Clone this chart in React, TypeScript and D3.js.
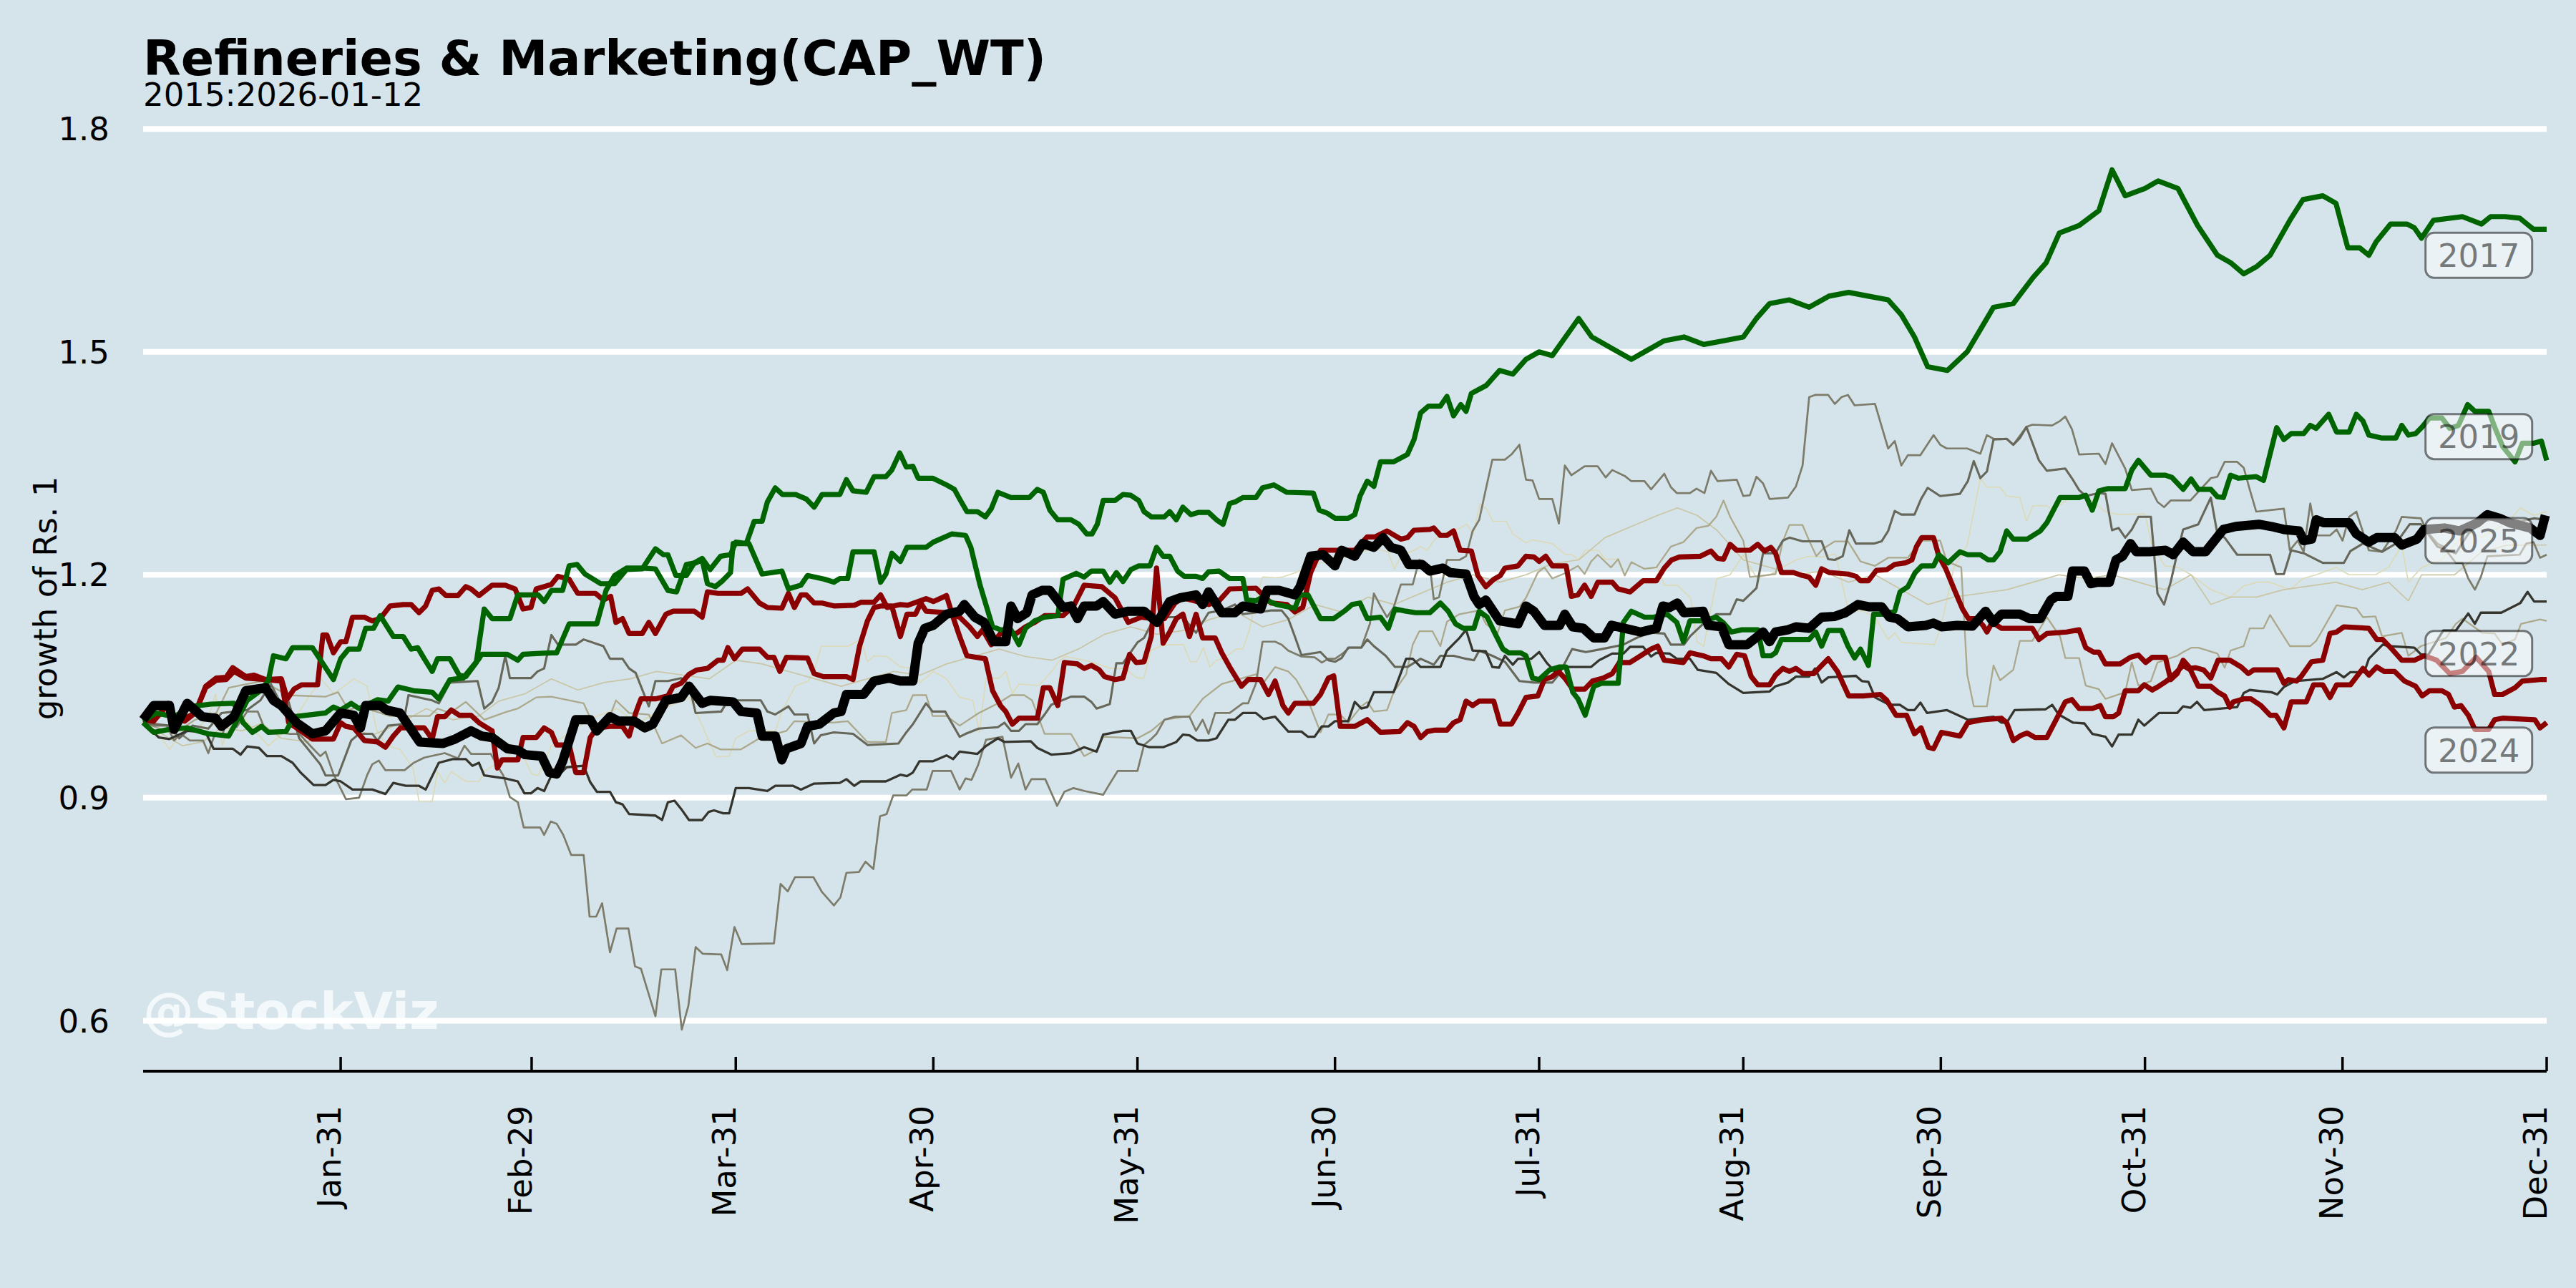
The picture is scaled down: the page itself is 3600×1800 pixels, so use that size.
import React from 'react';
import * as d3 from 'd3';

type P = [number, number];

const monthTickDays = [31, 60, 91, 121, 152, 182, 213, 244, 274, 305, 335, 366];
const monthTickLabels = ['Jan-31', 'Feb-29', 'Mar-31', 'Apr-30', 'May-31', 'Jun-30', 'Jul-31', 'Aug-31', 'Sep-30', 'Oct-31', 'Nov-30', 'Dec-31'];
const yTicks = [0.6, 0.9, 1.2, 1.5, 1.8];

const labelYears = ['2017', '2019', '2025', '2022', '2024'];
const labelValues = [1.630, 1.386, 1.246, 1.094, 0.964];
const labelDay = 355.7;

const y2025: P[] = [[1,1.005],[2.6,1.024],[5,1.024],[5.7,0.992],[7.7,1.027],[10,1.009],[12,1.007],[12.9,0.996],[14.8,1.009],[16.6,1.044],[19.6,1.048],[20.8,1.031],[22,1.024],[24.3,1.001],[26.7,0.986],[28.7,0.990],[31,1.014],[33,1.011],[34,0.994],[34.8,1.024],[37,1.024],[38,1.018],[40,1.014],[43,0.975],[46.5,0.973],[48.4,0.979],[50.8,0.990],[52.4,0.983],[54,0.981],[56.3,0.966],[57.9,0.964],[59,0.958],[61.5,0.956],[62.7,0.934],[63.8,0.932],[64.7,0.949],[66.7,1.005],[68.9,1.005],[69.9,0.990],[71.9,1.009],[73.2,1.003],[75.6,1.003],[77.2,0.994],[78.4,0.999],[80.4,1.031],[82.7,1.035],[83.9,1.05],[85.9,1.027],[87.1,1.031],[90.6,1.029],[91.8,1.016],[94.2,1.014],[95,0.983],[97,0.983],[98,0.951],[98.7,0.966],[100.9,0.973],[101.9,0.996],[103.7,0.999],[105.9,1.014],[107,1.016],[107.8,1.039],[110.4,1.039],[112,1.057],[114.3,1.061],[116,1.057],[117.9,1.057],[118.7,1.108],[119.7,1.128],[121,1.132],[123,1.147],[125,1.151],[125.7,1.160],[127.3,1.143],[128.7,1.136],[130.2,1.110],[132,1.110],[132.8,1.158],[133.8,1.141],[135.2,1.149],[136,1.173],[137.5,1.179],[138.7,1.179],[140.7,1.156],[141.9,1.158],[142.9,1.141],[143.9,1.158],[145.8,1.158],[146.8,1.164],[148.6,1.147],[150.6,1.151],[153,1.151],[155,1.136],[156.9,1.164],[158.5,1.169],[160.9,1.173],[161.9,1.160],[162.8,1.177],[164.8,1.149],[166.8,1.149],[168,1.158],[170.7,1.154],[171.7,1.179],[173.5,1.179],[175.9,1.173],[176.7,1.184],[178.3,1.225],[180.2,1.227],[182,1.212],[183,1.233],[185,1.225],[186.2,1.242],[187.9,1.237],[189.3,1.250],[190.5,1.237],[192,1.233],[193.2,1.214],[195.2,1.214],[196.4,1.205],[198.4,1.209],[199.5,1.203],[201.9,1.201],[203.1,1.171],[203.9,1.160],[204.9,1.166],[207,1.138],[209.8,1.134],[211,1.158],[212.2,1.151],[213.8,1.132],[216.1,1.132],[216.9,1.147],[218.1,1.130],[219.7,1.128],[221.3,1.115],[222.9,1.115],[224,1.132],[226,1.128],[228.4,1.123],[230.8,1.128],[231.8,1.158],[232.8,1.156],[234,1.162],[235,1.149],[237.9,1.151],[238.7,1.132],[240.7,1.130],[241.8,1.106],[244.6,1.106],[246.2,1.117],[247,1.123],[248,1.110],[248.9,1.123],[250.8,1.126],[252,1.130],[254,1.128],[255.9,1.143],[257.9,1.144],[259.5,1.149],[261.4,1.160],[263,1.157],[265,1.157],[266.2,1.143],[267.4,1.141],[269,1.130],[271.7,1.132],[272.9,1.135],[274.1,1.130],[276.5,1.132],[278.8,1.131],[280.8,1.151],[282,1.136],[283.2,1.147],[286,1.147],[287.5,1.141],[289.1,1.141],[290.7,1.166],[291.5,1.171],[293.3,1.171],[294,1.205],[295.8,1.205],[296.8,1.188],[297.8,1.190],[299.6,1.190],[300.6,1.220],[301.6,1.225],[302.8,1.242],[303.7,1.231],[305.7,1.231],[308.1,1.233],[309.3,1.227],[310.8,1.244],[311.6,1.237],[312.3,1.231],[314.2,1.231],[316.9,1.261],[318.8,1.265],[322.3,1.268],[324.2,1.265],[326.1,1.261],[328.4,1.259],[329.1,1.246],[330.3,1.248],[331,1.274],[332.2,1.270],[336,1.270],[337.1,1.255],[339,1.244],[340.2,1.250],[342.9,1.250],[344,1.240],[346.3,1.248],[347.4,1.261],[350.5,1.263],[352.8,1.259],[355.5,1.270],[357,1.281],[358.9,1.276],[360.4,1.270],[363.5,1.263],[365,1.253],[365.8,1.280]];

const y2017: P[] = [[1,1.001],[2.6,0.988],[5,0.992],[7.7,0.994],[10.9,0.986],[14,0.983],[14.8,0.996],[16.8,1.031],[18.8,1.044],[20,1.057],[20.8,1.091],[22.7,1.087],[23.7,1.102],[26.7,1.102],[29.9,1.059],[31,1.087],[32.2,1.100],[33.8,1.100],[34.8,1.128],[36,1.128],[37,1.145],[39,1.117],[40.5,1.117],[41.7,1.100],[42.7,1.102],[43.7,1.087],[44.9,1.070],[45.7,1.087],[47.6,1.087],[49,1.065],[50,1.063],[51.6,1.082],[52.8,1.154],[54,1.141],[56.7,1.141],[57.9,1.173],[61,1.173],[61.9,1.164],[63,1.179],[64.7,1.179],[65.7,1.212],[66.9,1.214],[68.1,1.201],[70.5,1.188],[72.6,1.188],[74.4,1.207],[76.8,1.208],[78.8,1.235],[80,1.227],[80.7,1.227],[81.9,1.199],[83.5,1.199],[84.7,1.216],[85.9,1.222],[87.1,1.207],[88.7,1.225],[90.2,1.227],[91,1.244],[92.6,1.242],[93.8,1.272],[95,1.272],[95.8,1.298],[97,1.317],[98.1,1.308],[100.1,1.308],[101.7,1.302],[102.9,1.291],[104.1,1.308],[106.8,1.308],[107.8,1.328],[108.8,1.313],[110.8,1.311],[112,1.332],[113.8,1.332],[114.7,1.341],[115.9,1.364],[116.9,1.345],[117.9,1.346],[118.7,1.330],[120.9,1.330],[123,1.321],[124.2,1.315],[125,1.302],[126.1,1.285],[127.7,1.285],[128.9,1.278],[129.8,1.289],[130.8,1.311],[132.8,1.304],[135.6,1.304],[136.8,1.315],[137.7,1.311],[138.7,1.287],[139.9,1.274],[141.9,1.274],[143.1,1.268],[144.3,1.255],[145.1,1.255],[145.9,1.268],[146.8,1.300],[148.6,1.300],[149.8,1.308],[151,1.307],[152.2,1.300],[153,1.285],[154.1,1.278],[156.1,1.278],[156.9,1.285],[157.9,1.274],[158.9,1.291],[160.1,1.281],[161.3,1.284],[162.8,1.284],[164,1.274],[165,1.268],[166,1.296],[166.8,1.298],[168,1.304],[170,1.304],[171,1.317],[172.7,1.321],[174.7,1.311],[178.7,1.310],[179.6,1.287],[180.8,1.283],[182,1.276],[184,1.276],[185,1.281],[185.8,1.306],[186.9,1.326],[187.9,1.319],[188.9,1.352],[190.9,1.352],[193,1.362],[194,1.382],[195,1.418],[196.2,1.427],[198,1.427],[199,1.44],[200,1.414],[201.1,1.429],[201.9,1.420],[202.7,1.444],[205,1.455],[207,1.475],[209,1.47],[211,1.49],[213,1.5],[215,1.495],[217,1.52],[219,1.545],[221,1.52],[224,1.505],[227,1.49],[229,1.5],[232,1.515],[235,1.52],[238,1.51],[241,1.515],[244,1.52],[246,1.545],[248,1.565],[251,1.57],[254,1.56],[257,1.575],[260,1.58],[263,1.575],[266,1.57],[268,1.55],[270,1.52],[272,1.48],[275,1.475],[278,1.5],[280,1.53],[282,1.56],[285,1.565],[288,1.6],[290,1.62],[292,1.66],[295,1.67],[298,1.69],[300,1.745],[302,1.71],[305,1.72],[307,1.73],[310,1.72],[313,1.67],[316,1.63],[318,1.62],[320,1.605],[322,1.615],[324,1.63],[327,1.677],[329,1.705],[332,1.71],[334,1.70],[335.8,1.64],[337.6,1.64],[339,1.63],[340.1,1.648],[342.3,1.672],[344.8,1.672],[345.9,1.667],[347,1.653],[348.8,1.677],[353.2,1.682],[356.1,1.672],[357.5,1.682],[359.7,1.682],[361.9,1.68],[363.3,1.67],[364,1.665],[366,1.665]];

const y2019: P[] = [[1,1.003],[3,1.014],[5.7,1.009],[8.5,1.023],[11.3,1.026],[14.8,1.027],[16.2,1.001],[17.6,0.988],[19,0.996],[20,0.988],[22.7,0.989],[23.9,1.009],[28.7,1.014],[29.9,1.022],[31,1.018],[32.6,1.027],[33.8,1.020],[36.6,1.032],[38.2,1.030],[39.7,1.049],[42.1,1.044],[44.9,1.042],[45.9,1.033],[47.6,1.059],[49.6,1.061],[52,1.087],[52.4,1.093],[56.3,1.093],[57.9,1.085],[58.7,1.093],[63,1.095],[63.8,1.095],[65.7,1.134],[69.9,1.134],[71.3,1.179],[72.6,1.199],[74.4,1.209],[76.8,1.209],[78.8,1.208],[80.7,1.179],[82,1.177],[83.5,1.214],[84.9,1.216],[85.9,1.22],[86.7,1.188],[87.9,1.184],[89,1.192],[90.2,1.203],[90.6,1.242],[93,1.242],[95,1.201],[98,1.205],[99,1.181],[100.9,1.186],[101.9,1.199],[104.5,1.194],[105.9,1.190],[106.8,1.195],[108,1.195],[108.8,1.231],[112,1.231],[113,1.190],[113.8,1.201],[114.7,1.229],[116,1.218],[117,1.237],[119.9,1.237],[121,1.244],[123.8,1.255],[125.9,1.253],[126.7,1.237],[128.1,1.186],[130,1.130],[131.2,1.126],[132.8,1.126],[134,1.106],[135,1.128],[136.4,1.138],[137.9,1.143],[139.9,1.145],[140.7,1.194],[142.7,1.202],[143.9,1.197],[145,1.205],[146.8,1.205],[147.8,1.190],[148.8,1.203],[149.8,1.191],[151,1.207],[152.2,1.212],[153.9,1.212],[154.9,1.237],[155.9,1.225],[156.9,1.225],[158.1,1.205],[159.1,1.198],[160.9,1.198],[161.9,1.195],[162.8,1.204],[164.4,1.205],[166,1.195],[168,1.195],[168.6,1.166],[170,1.165],[170.8,1.169],[173.1,1.16],[175.9,1.155],[176.7,1.173],[177.9,1.173],[179.8,1.141],[181.8,1.141],[183.4,1.151],[184.6,1.160],[185.8,1.162],[186.9,1.141],[188.9,1.143],[190.1,1.128],[191.1,1.154],[192.8,1.151],[194.2,1.149],[196.4,1.149],[198,1.162],[199.2,1.151],[200.3,1.134],[201.5,1.128],[203.1,1.128],[203.9,1.151],[205.1,1.143],[206.3,1.121],[207.5,1.100],[208.4,1.095],[210.2,1.095],[211,1.091],[212,1.061],[213,1.059],[214.6,1.072],[216.1,1.076],[217.1,1.076],[218.1,1.042],[218.9,1.033],[220,1.011],[221.3,1.050],[222.5,1.054],[225,1.054],[225.8,1.136],[227,1.151],[229,1.143],[230.4,1.143],[232.4,1.147],[233.9,1.136],[234.9,1.110],[235.9,1.138],[237.9,1.138],[239.9,1.143],[240.9,1.136],[242.2,1.123],[243.8,1.126],[246.2,1.126],[247,1.091],[248.2,1.091],[248.9,1.095],[249.8,1.113],[254,1.113],[255,1.123],[255.9,1.104],[256.9,1.125],[258.9,1.125],[259.9,1.104],[260.9,1.088],[261.8,1.100],[263,1.078],[263.8,1.147],[265.4,1.147],[267,1.151],[267.8,1.177],[269,1.184],[270.1,1.203],[271.1,1.212],[272.9,1.212],[273.7,1.227],[275.1,1.216],[276.9,1.231],[278.1,1.227],[280,1.227],[281.2,1.220],[282,1.220],[283,1.231],[284,1.259],[285,1.248],[287.1,1.248],[289.1,1.259],[290.1,1.270],[292.1,1.304],[295,1.304],[296,1.307],[297,1.287],[298,1.313],[299.4,1.316],[302,1.316],[303,1.341],[304,1.354],[305.9,1.334],[308.1,1.334],[309.1,1.331],[310.8,1.315],[312,1.329],[313.1,1.315],[315,1.315],[316,1.305],[316.9,1.304],[318,1.334],[319.2,1.330],[321.9,1.332],[323,1.327],[325,1.398],[326.1,1.382],[327.2,1.390],[329.1,1.390],[330.1,1.401],[331,1.397],[332.9,1.416],[334.1,1.392],[336,1.392],[337.1,1.416],[338.1,1.407],[339,1.388],[341,1.384],[343.1,1.384],[344,1.401],[345,1.388],[346.1,1.390],[347.1,1.399],[348.2,1.411],[350.1,1.411],[351.3,1.397],[352.6,1.401],[354,1.429],[355.1,1.420],[357.2,1.420],[358.1,1.399],[359.3,1.373],[361.2,1.352],[362.3,1.377],[364,1.377],[365.2,1.380],[366,1.354]];

const y2022: P[] = [[1,1.005],[2.6,1.003],[4.8,1.027],[5.7,1.007],[7.3,1.003],[8.9,1.014],[10.5,1.048],[12.1,1.058],[13.6,1.059],[14.8,1.070],[16.6,1.061],[19.6,1.059],[22,1.057],[23.1,1.001],[24.3,0.994],[26.7,0.979],[29.9,0.979],[31,1.001],[31.8,0.996],[33,0.994],[34.6,0.977],[36.6,0.975],[37.8,0.968],[39,0.983],[40.1,0.994],[43.7,0.994],[44.9,0.979],[45.7,1.009],[46.8,1.009],[47.8,1.018],[49,1.011],[50.8,1.011],[52,1.001],[54,0.990],[54.8,0.940],[55.5,0.951],[57.9,0.951],[58.7,0.981],[60.7,0.981],[61.9,0.994],[63,0.988],[63.8,0.971],[65.7,0.971],[66.7,0.934],[67.9,0.934],[68.9,0.981],[69.9,0.994],[71.9,0.996],[73.8,0.996],[74.8,0.983],[75.8,1.014],[76.6,1.033],[78.8,1.033],[80.7,1.037],[81.5,1.050],[82.7,1.054],[83.9,1.066],[85.1,1.072],[86.7,1.074],[88.3,1.085],[89.1,1.085],[89.8,1.102],[90.8,1.087],[92,1.100],[94.6,1.100],[95.8,1.089],[96.8,1.089],[97.7,1.070],[98.7,1.089],[101.9,1.088],[102.9,1.067],[104.3,1.063],[107.8,1.063],[108.8,1.059],[109.8,1.104],[111,1.138],[112,1.156],[113,1.158],[114.7,1.158],[116,1.117],[117,1.147],[118.3,1.147],[119.1,1.162],[119.9,1.151],[123,1.149],[125,1.143],[126.5,1.130],[127.7,1.117],[128.5,1.126],[129.8,1.106],[131.2,1.121],[133.6,1.121],[135,1.130],[136.4,1.136],[137.9,1.145],[140.7,1.145],[142.3,1.158],[143.9,1.186],[146.6,1.184],[148.6,1.169],[150.6,1.136],[152.6,1.143],[154.2,1.141],[156.1,1.141],[157.7,1.162],[158.9,1.169],[162.8,1.160],[164.4,1.165],[166,1.181],[170,1.182],[172.3,1.162],[174.7,1.160],[175.9,1.150],[177.1,1.156],[178.3,1.203],[179.8,1.233],[181.8,1.233],[185,1.233],[186.9,1.251],[188.1,1.251],[189.9,1.259],[192,1.248],[193,1.250],[194,1.260],[196.4,1.261],[197,1.263],[198,1.253],[199,1.253],[200,1.259],[201,1.233],[202.7,1.232],[203.7,1.199],[204.9,1.184],[206.1,1.194],[207.1,1.199],[207.8,1.209],[209.8,1.212],[211,1.225],[212.2,1.224],[213,1.218],[214,1.225],[215,1.212],[217.1,1.212],[217.9,1.171],[218.9,1.173],[219.9,1.186],[220.9,1.171],[221.9,1.190],[224.1,1.190],[225,1.181],[226.8,1.177],[228.8,1.192],[230.8,1.192],[232,1.209],[233.1,1.220],[234.3,1.224],[237.5,1.225],[239.1,1.232],[240.1,1.222],[241,1.221],[242,1.241],[243,1.233],[245,1.233],[246.2,1.241],[247.2,1.232],[248.2,1.237],[248.9,1.229],[249.8,1.203],[251.6,1.203],[253,1.199],[254,1.197],[255,1.186],[255.9,1.208],[257.1,1.203],[259.9,1.201],[261.1,1.198],[261.8,1.192],[263,1.192],[264.2,1.206],[265.8,1.207],[267,1.214],[268.6,1.216],[269.6,1.220],[270.3,1.238],[271.1,1.250],[272.9,1.250],[273.7,1.225],[274.7,1.209],[276.1,1.179],[277.3,1.154],[278.2,1.141],[279.4,1.141],[280.4,1.132],[281,1.123],[281.8,1.136],[283.2,1.128],[287.9,1.128],[288.9,1.113],[290.1,1.121],[293.1,1.123],[295,1.126],[296,1.102],[297.2,1.096],[298,1.096],[299,1.080],[301.2,1.080],[302.8,1.089],[304,1.092],[305.1,1.082],[306.1,1.089],[308.1,1.089],[308.9,1.059],[309.9,1.067],[310.8,1.085],[311.9,1.074],[312.7,1.075],[313.9,1.072],[315,1.061],[316.1,1.085],[317.9,1.085],[319.6,1.076],[320.7,1.067],[321.5,1.072],[325.1,1.072],[326.1,1.054],[326.8,1.059],[328,1.057],[328.7,1.063],[330.3,1.083],[332,1.085],[333.1,1.121],[334.1,1.123],[335.2,1.130],[339,1.128],[340.2,1.113],[341.1,1.113],[342.5,1.100],[344,1.085],[345.9,1.085],[347.4,1.091],[349.3,1.085],[351.3,1.067],[353.2,1.070],[355.3,1.089],[357.2,1.070],[358.1,1.039],[359.3,1.039],[361.2,1.048],[362.3,1.057],[365,1.059],[366,1.059]];

const y2024: P[] = [[1,1.009],[2.6,1.005],[3.4,1.011],[4.8,1.026],[5.7,1.009],[6.9,1.005],[8.9,1.014],[10.5,1.050],[12.1,1.061],[13.6,1.062],[14.6,1.075],[16.6,1.063],[17.8,1.065],[19.6,1.059],[22,1.060],[22.9,1.033],[23.9,1.046],[25.1,1.052],[27.5,1.052],[28.3,1.119],[28.9,1.119],[29.9,1.095],[31,1.110],[31.8,1.110],[32.8,1.143],[34.6,1.143],[35.8,1.138],[37,1.141],[38.5,1.158],[40.5,1.160],[41.7,1.160],[42.9,1.149],[43.9,1.158],[44.9,1.179],[45.9,1.181],[47,1.172],[48.8,1.172],[50,1.184],[50.8,1.181],[52,1.172],[54,1.186],[56,1.186],[57.5,1.181],[58.7,1.154],[59.9,1.156],[60.7,1.181],[63,1.187],[64,1.198],[65.7,1.194],[67,1.175],[69.7,1.175],[70.9,1.166],[72,1.171],[72.8,1.136],[73.8,1.141],[74.8,1.121],[76.8,1.121],[77.8,1.136],[78.8,1.121],[80.4,1.147],[81.5,1.151],[84.7,1.151],[85.9,1.143],[86.7,1.177],[88.3,1.175],[91.8,1.175],[92.8,1.181],[94.6,1.162],[95.8,1.156],[98,1.155],[99,1.175],[99.9,1.156],[100.9,1.173],[101.7,1.173],[102.9,1.162],[104.1,1.162],[106,1.158],[109,1.159],[110,1.163],[112,1.163],[113,1.173],[114,1.156],[116,1.160],[117.1,1.159],[118.7,1.164],[119.9,1.168],[121,1.164],[123,1.172],[124,1.143],[125,1.117],[126.1,1.091],[128.9,1.087],[130,1.044],[131.2,1.024],[132,1.016],[133,0.999],[134,1.007],[136.8,1.007],[137.7,1.048],[138.7,1.048],[139.9,1.024],[140.9,1.082],[142.9,1.080],[143.9,1.074],[145,1.078],[146.2,1.072],[147,1.063],[148.6,1.059],[149.8,1.061],[150.8,1.093],[151.8,1.082],[153,1.083],[154.1,1.117],[154.9,1.209],[155.9,1.108],[156.9,1.123],[157.9,1.141],[158.9,1.147],[159.9,1.117],[160.9,1.147],[161.9,1.115],[163.8,1.115],[164.8,1.095],[166,1.076],[167.8,1.050],[168.8,1.059],[170.7,1.059],[171.9,1.039],[172.9,1.057],[174.1,1.024],[174.9,1.014],[175.9,1.027],[178.7,1.027],[179.8,1.039],[181,1.061],[181.8,1.064],[182.8,0.996],[185,0.996],[186.9,1.005],[188.9,0.988],[191.8,0.989],[193,1.001],[194,0.996],[195,0.981],[196,0.989],[197.2,0.991],[199,0.991],[200,1.001],[201,1.005],[201.9,1.030],[202.9,1.024],[203.9,1.030],[206.1,1.030],[207.1,0.999],[208.8,0.999],[209.8,1.014],[211,1.035],[212.8,1.037],[213.8,1.059],[215,1.063],[215.9,1.070],[216.9,1.061],[218.1,1.046],[219.9,1.046],[221.1,1.057],[222.7,1.061],[224.1,1.067],[225.2,1.082],[226.8,1.082],[230,1.100],[231,1.104],[232,1.085],[234.9,1.082],[235.9,1.095],[237.9,1.091],[239.1,1.087],[240.7,1.087],[241.8,1.076],[243,1.093],[244.2,1.091],[245.2,1.063],[246.2,1.052],[248,1.052],[248.9,1.065],[250,1.074],[251,1.070],[252,1.074],[253.1,1.067],[254.7,1.067],[255.9,1.078],[256.9,1.087],[258.3,1.070],[260,1.037],[262.2,1.037],[264.8,1.039],[265.8,1.031],[267.2,1.011],[268.8,1.011],[270,0.986],[271,0.994],[272.1,0.968],[272.9,0.966],[274.1,0.988],[276.9,0.983],[278.1,1.001],[280.4,1.005],[283.2,1.007],[284,1.001],[285,0.977],[286.2,0.984],[287.1,0.987],[288.3,0.981],[290.1,0.981],[291.5,1.005],[292.9,1.029],[293.9,1.032],[295,1.020],[297,1.020],[298.2,1.024],[299,1.009],[300.2,1.009],[301,1.014],[302,1.044],[304,1.044],[304.9,1.052],[306.1,1.045],[307.1,1.050],[308.3,1.057],[309.1,1.063],[310.8,1.078],[311.9,1.072],[313.1,1.050],[315,1.050],[316.1,1.042],[317.1,1.037],[317.9,1.022],[318.4,1.029],[320,1.033],[321.1,1.033],[322.6,1.024],[324,1.011],[324.9,1.011],[326.1,0.994],[327.2,1.029],[329.5,1.029],[330.6,1.052],[332,1.052],[333.1,1.035],[334.1,1.052],[336.2,1.052],[338.1,1.074],[339,1.065],[340.2,1.076],[341.3,1.070],[342.9,1.070],[344.4,1.057],[346.1,1.050],[347.1,1.037],[348.2,1.044],[350.1,1.044],[351.1,1.039],[352,1.022],[353,1.024],[354.1,1.011],[355.1,0.992],[357.2,0.992],[358.1,1.005],[359.3,1.007],[364.2,1.005],[365,0.994],[366,1.001]];

const y2023: P[] = [[1,1.001],[3.4,0.981],[5,0.979],[7.7,0.990],[10.5,0.988],[11.7,0.966],[14.6,0.966],[15.8,0.958],[16.8,0.969],[18.6,0.967],[19.8,0.956],[22,0.956],[23.7,0.947],[24.9,0.934],[26.9,0.917],[28.7,0.917],[29.9,0.924],[31,0.922],[32.8,0.911],[35.8,0.911],[37.8,0.905],[39,0.920],[40.9,0.916],[42.9,0.916],[43.9,0.911],[45.9,0.947],[48,0.952],[50,0.952],[51,0.943],[52,0.947],[52.8,0.930],[56,0.926],[57.9,0.922],[58.9,0.906],[59.9,0.906],[60.9,0.913],[61.9,0.909],[63,0.930],[64.1,0.930],[65.3,0.941],[67.9,0.943],[68.9,0.921],[69.9,0.908],[71.9,0.908],[72.8,0.894],[73.8,0.891],[74.8,0.878],[78.8,0.876],[79.8,0.870],[80.7,0.894],[81.7,0.896],[82.7,0.885],[83.9,0.870],[85.9,0.870],[86.9,0.881],[87.7,0.883],[89.1,0.879],[90,0.879],[91,0.913],[93,0.913],[95.8,0.909],[97,0.916],[99.7,0.916],[100.9,0.911],[102.9,0.919],[106.8,0.920],[107.8,0.925],[109,0.916],[110,0.922],[113.8,0.922],[116,0.931],[117,0.929],[117.9,0.934],[118.9,0.949],[120.9,0.949],[123,0.957],[124,0.952],[125,0.962],[127.7,0.959],[128.9,0.969],[130.8,0.980],[131.8,0.975],[135.8,0.976],[136.8,0.967],[138.9,0.958],[141.9,0.960],[143.9,0.968],[145.8,0.962],[146.8,0.985],[149.8,0.990],[151,0.990],[152,0.973],[153.8,0.968],[155.9,0.968],[157.9,0.975],[158.9,0.985],[159.9,0.984],[161.1,0.977],[162.8,0.977],[164,0.980],[165.8,1.005],[166.8,1.005],[168,1.014],[170,1.014],[171.1,1.006],[172.9,1.009],[174.9,0.989],[176.9,0.989],[177.9,0.982],[178.9,0.982],[180,0.996],[181,0.996],[182,1.003],[184,1.003],[185,1.029],[186,1.020],[186.9,1.022],[187.9,1.042],[190.9,1.042],[192.8,1.087],[193.8,1.087],[195,1.076],[198,1.076],[199,1.098],[200.9,1.115],[201.9,1.126],[202.9,1.098],[204.9,1.097],[205.9,1.076],[206.9,1.075],[207.8,1.091],[209,1.079],[209.8,1.087],[211.8,1.087],[213,1.096],[214.2,1.081],[215.6,1.068],[216.9,1.076],[220.9,1.076],[222.1,1.085],[224.1,1.094],[225.8,1.094],[226.8,1.103],[228.8,1.103],[230,1.090],[230.8,1.095],[232.8,1.094],[233.9,1.087],[235.9,1.087],[237.1,1.072],[239.9,1.068],[241.8,1.053],[244,1.041],[248,1.043],[248.9,1.050],[250.8,1.055],[252,1.063],[254,1.063],[254.9,1.074],[255.9,1.055],[256.9,1.062],[261.1,1.064],[262,1.057],[263,1.056],[264,1.035],[266.2,1.025],[267.8,1.025],[269,1.018],[270,1.018],[270.9,1.028],[271.9,1.014],[274.9,1.018],[278.1,1.005],[282,1.009],[283.2,1.001],[284,1.001],[285.2,1.018],[289.9,1.019],[290.9,1.025],[291.9,1.012],[294.1,1.001],[295.8,1.000],[297,0.986],[299,0.982],[300,0.969],[301,0.985],[303,0.985],[304,1.005],[304.9,0.997],[307.1,1.014],[309.9,1.014],[310.8,1.023],[311.9,1.021],[312.9,1.029],[314,1.018],[319,1.022],[320,1.041],[320.9,1.045],[324.2,1.042],[325.1,1.039],[326.1,1.049],[327.8,1.057],[332,1.060],[334.1,1.069],[335.2,1.062],[336.2,1.069],[338.3,1.069],[339,1.087],[341.1,1.106],[342.1,1.104],[345.9,1.102],[346.9,1.093],[348,1.092],[350.3,1.125],[352.2,1.125],[354.1,1.148],[355.1,1.134],[356,1.149],[359.1,1.149],[362,1.162],[363.1,1.177],[364.1,1.164],[366,1.164]];

const y2020: P[] = [[1,1.001],[2.6,0.997],[4.6,0.997],[5.7,0.977],[6.7,0.986],[8.1,0.977],[10.1,0.977],[10.9,0.960],[11.9,0.986],[12.9,0.982],[14,1.008],[15.2,0.995],[16.8,1.016],[18.4,1.016],[19.6,0.990],[23.1,0.986],[24.7,0.986],[26.7,0.967],[27.9,0.956],[28.7,0.962],[29.9,0.932],[31.8,0.898],[33.8,0.900],[35,0.930],[35.8,0.945],[36.8,0.950],[37.8,0.937],[40.7,0.937],[42.1,0.947],[43.7,0.954],[46.8,0.960],[48.8,0.953],[49.8,0.970],[50.8,0.959],[53.8,0.959],[54.8,0.943],[55.7,0.930],[56.7,0.901],[57.9,0.894],[58.8,0.860],[61.3,0.860],[61.9,0.850],[62.9,0.868],[63.8,0.865],[64.8,0.850],[66,0.823],[67.9,0.823],[68.8,0.740],[69.8,0.740],[70.7,0.758],[71.9,0.692],[72.9,0.724],[74.7,0.724],[75.7,0.673],[76.6,0.670],[78.8,0.606],[79.7,0.669],[81.8,0.669],[82.8,0.588],[83.8,0.620],[84.9,0.699],[86,0.690],[88.8,0.689],[89.7,0.668],[90.8,0.726],[91.9,0.703],[96.8,0.704],[97.8,0.784],[98.9,0.774],[100,0.793],[102.8,0.793],[104.1,0.773],[105.9,0.755],[106.9,0.766],[107.8,0.799],[109.7,0.800],[110.7,0.814],[111.9,0.804],[112.9,0.875],[113.9,0.878],[114.9,0.903],[116.9,0.903],[117.8,0.911],[120,0.911],[120.9,0.936],[123.7,0.936],[125,0.911],[125.9,0.926],[126.8,0.924],[127.8,0.944],[129,0.978],[131.5,0.982],[132.8,0.927],[133.9,0.946],[135,0.911],[135.9,0.925],[138,0.925],[139.8,0.889],[140.9,0.908],[142.3,0.913],[144,0.909],[146.8,0.904],[147.8,0.919],[149,0.936],[152,0.936],[153,0.971],[154.1,0.979],[154.9,0.986],[156.1,1.005],[157.7,1.009],[159.9,1.009],[160.9,0.990],[161.9,1.005],[162.8,0.986],[163.8,1.014],[166,1.014],[168,1.027],[168.8,1.027],[170,1.054],[171,1.110],[172.9,1.110],[173.9,1.106],[174.9,1.098],[176.9,1.090],[178.9,1.089],[180,1.082],[181,1.087],[182,1.087],[183,1.093],[184.2,1.102],[186,1.102],[187.3,1.134],[187.9,1.175],[188.9,1.158],[189.9,1.143],[190.9,1.156],[192,1.187],[193.8,1.187],[194.8,1.220],[196.4,1.212],[197,1.167],[197.8,1.170],[199,1.220],[200.9,1.220],[201.9,1.225],[202.9,1.259],[203.9,1.274],[204.9,1.315],[205.9,1.355],[207.8,1.355],[208.8,1.362],[210,1.375],[211,1.328],[212,1.327],[213,1.302],[215,1.302],[216,1.269],[216.9,1.347],[217.9,1.334],[219.9,1.346],[221.9,1.346],[223.1,1.331],[224.1,1.341],[226,1.333],[227,1.326],[229,1.326],[230,1.315],[232,1.336],[233,1.318],[233.9,1.310],[235.9,1.310],[236.9,1.316],[238.1,1.310],[239.1,1.340],[240.1,1.326],[243,1.328],[244,1.306],[245,1.307],[246,1.332],[247,1.323],[248,1.302],[250.8,1.304],[252,1.319],[253,1.347],[254,1.439],[254.9,1.442],[256.9,1.442],[257.9,1.430],[258.9,1.439],[259.9,1.442],[260.9,1.428],[264,1.430],[266,1.370],[267,1.380],[268,1.347],[269,1.361],[270.9,1.361],[272.9,1.388],[273.9,1.375],[274.9,1.370],[278,1.370],[280,1.363],[281,1.388],[282,1.383],[284,1.383],[285,1.375],[287,1.399],[287.9,1.402],[290.9,1.401],[292.1,1.407],[292.9,1.413],[293.9,1.396],[295,1.362],[298,1.363],[299,1.349],[300,1.377],[302,1.343],[303,1.314],[305.9,1.316],[306.9,1.298],[307.9,1.291],[308.9,1.300],[311.9,1.300],[315,1.330],[316,1.332],[317.1,1.352],[319,1.352],[320,1.344],[320.9,1.315],[321.9,1.285],[326.1,1.289],[327,1.233],[328.2,1.246],[329.1,1.231],[330.1,1.296],[331,1.253],[333.1,1.253],[334.1,1.261],[335,1.246],[336,1.278],[337.1,1.285],[339,1.233],[341,1.231],[343.1,1.259],[344,1.278],[346.9,1.276],[347.8,1.259],[349.4,1.242],[350.3,1.238],[352.2,1.216],[353.2,1.216],[354.1,1.195],[355.1,1.180],[356,1.197],[357,1.225],[361.9,1.227],[362.9,1.242],[364,1.244],[365,1.223],[366,1.227]];

const y2021: P[] = [[1,1.001],[5,0.997],[6.5,0.980],[8.5,0.997],[10.9,0.993],[12.9,1.014],[16.8,1.018],[18.8,1.031],[20.4,1.053],[22,1.025],[23.1,1.029],[24.7,0.980],[25.9,0.967],[27.9,0.945],[28.7,0.930],[30.6,0.930],[31.8,0.958],[32.6,0.977],[33.8,0.986],[35.8,0.986],[36.6,0.977],[38.2,0.997],[40.5,0.999],[41.3,1.038],[44.9,1.031],[45.9,1.027],[47.6,1.055],[51.8,1.057],[52.8,1.020],[54,1.029],[55,1.048],[56,1.091],[56.7,1.061],[59.9,1.061],[60.9,1.070],[61.9,1.074],[63,1.119],[64,1.106],[66.7,1.106],[67.9,1.113],[70.9,1.104],[71.9,1.087],[73.8,1.087],[74.8,1.074],[75.8,1.068],[77.8,1.023],[78.8,1.057],[80.7,1.057],[82.7,1.061],[83.9,1.053],[84.9,1.014],[88.8,1.016],[89.8,1.031],[94.8,1.031],[95.8,1.016],[97,1.012],[99,1.023],[99.9,1.012],[101.9,1.012],[102.9,0.973],[103.9,0.984],[105.9,0.988],[108.8,0.986],[111,0.971],[115.7,0.973],[116.9,0.988],[117.9,0.999],[119.9,1.027],[120.9,1.016],[122.8,1.016],[125,0.982],[125.9,0.986],[127.9,0.993],[130.8,0.995],[131.8,1.001],[132.8,0.990],[134,0.990],[135,0.999],[136.8,0.999],[137.9,1.012],[138.9,1.025],[141.9,1.036],[143.9,1.036],[145,1.029],[145.8,1.020],[147.8,1.026],[148.8,1.081],[149.8,1.081],[152,1.109],[153,1.115],[154.1,1.134],[156.1,1.143],[158.9,1.143],[160.9,1.122],[162.8,1.149],[164.8,1.152],[166.8,1.160],[168,1.147],[172.3,1.152],[173.9,1.152],[174.9,1.141],[175.9,1.117],[176.9,1.092],[179.8,1.096],[181,1.085],[182,1.083],[183,1.088],[184,1.102],[186,1.102],[186.9,1.113],[187.9,1.104],[189.7,1.091],[191.1,1.076],[193,1.076],[195,1.087],[197,1.079],[198,1.091],[200,1.091],[201.9,1.087],[203.1,1.085],[203.9,1.098],[205.9,1.091],[207.8,1.083],[210,1.057],[212.2,1.055],[215,1.055],[216,1.066],[218,1.100],[220.1,1.096],[222.5,1.100],[225.8,1.106],[228,1.116],[230,1.122],[232,1.121],[233,1.106],[235,1.106],[235.9,1.117],[237.9,1.134],[239.9,1.147],[242,1.147],[243,1.167],[244,1.165],[246,1.182],[247,1.229],[248.9,1.229],[250,1.246],[251,1.250],[253,1.245],[255.9,1.245],[256.9,1.221],[257.9,1.220],[259.1,1.225],[260.1,1.260],[261.1,1.242],[263.8,1.242],[265,1.245],[266,1.259],[267,1.286],[268,1.281],[270,1.281],[271,1.302],[272,1.317],[273.9,1.306],[276.9,1.309],[278.1,1.326],[279,1.353],[280,1.330],[281,1.339],[282,1.382],[284,1.383],[285,1.375],[286,1.384],[287,1.399],[288.9,1.354],[290.1,1.340],[292.9,1.343],[293.9,1.330],[295,1.314],[296,1.306],[298,1.310],[299,1.309],[300,1.260],[301,1.263],[302,1.250],[303,1.261],[304,1.278],[305.9,1.278],[306.9,1.175],[307.9,1.160],[308.9,1.190],[309.9,1.229],[310.8,1.261],[313.1,1.268],[315,1.304],[316,1.255],[317.1,1.250],[319,1.227],[324,1.227],[324.9,1.201],[326.1,1.201],[327.2,1.233],[329.1,1.229],[332,1.216],[335.2,1.216],[336.2,1.232],[338.1,1.242],[341,1.231],[343.1,1.242],[345.2,1.268],[346.9,1.268],[349.4,1.238],[352.2,1.229],[354.1,1.255],[356,1.272],[359.1,1.276],[362,1.272],[364.1,1.276],[366,1.274]];

const y2018: P[] = [[1,1.001],[5.7,0.986],[8.9,1.005],[12.1,1.014],[14,1.048],[16.8,1.053],[19.2,1.057],[22.9,1.038],[28.7,1.036],[30.6,1.042],[32.2,1.018],[33.8,1.023],[38.5,1.010],[44.5,1.010],[45.7,1.020],[47.6,1.014],[50,1.029],[52.8,1.005],[56,1.015],[57.9,1.020],[60.7,1.035],[63,1.036],[67.9,1.027],[69.9,0.988],[71.9,1.010],[72.8,1.031],[74.8,1.014],[77.8,1.012],[79.8,0.973],[82.7,0.984],[84.9,0.967],[86.7,0.973],[88.7,0.965],[91.8,0.965],[94.6,0.980],[98.7,0.990],[99.9,1.003],[105.8,1.001],[108,1.003],[111,0.975],[113.8,0.975],[114.7,1.014],[116.9,1.018],[117.9,1.038],[119.9,1.038],[120.9,1.010],[123,1.010],[125,0.997],[127.9,1.014],[130.8,1.027],[132.8,1.038],[134.8,1.038],[136,1.031],[137.9,0.986],[141.9,0.986],[143.9,0.956],[145.9,0.965],[146.8,0.982],[152,0.980],[154.1,0.990],[156.1,1.005],[159.9,1.010],[161.9,1.033],[164.8,1.053],[170,1.066],[171,1.053],[172.9,1.076],[174.9,1.070],[176.1,1.059],[177.9,1.031],[179.8,0.988],[181,1.012],[182.8,1.012],[184,1.001],[186,1.023],[186.9,1.029],[187.9,1.016],[189.9,1.018],[190.9,1.042],[192.8,1.066],[193.8,1.106],[194.8,1.124],[196.8,1.124],[198,1.104],[199,1.137],[200.9,1.147],[203.9,1.152],[204.9,1.134],[206.7,1.122],[207.8,1.152],[210,1.157],[211,1.169],[212.8,1.203],[213.8,1.210],[215,1.195],[216.9,1.202],[218.9,1.212],[219.9,1.201],[220.9,1.218],[221.9,1.227],[223.9,1.210],[225,1.221],[226,1.199],[227,1.217],[229,1.208],[230.8,1.210],[233,1.238],[234.9,1.244],[236.9,1.263],[238.7,1.266],[239.9,1.278],[241,1.300],[242,1.278],[244,1.246],[245,1.197],[247,1.199],[248.9,1.201],[250,1.245],[251,1.267],[253,1.267],[254,1.246],[255.1,1.225],[256.1,1.235],[257.9,1.245],[259.9,1.245],[261.8,1.218],[264,1.212],[266,1.223],[269,1.223],[270.9,1.246],[273.9,1.246],[274.9,1.218],[277.1,1.210],[278,1.066],[279,1.023],[281,1.023],[282,1.078],[283,1.058],[285,1.072],[286,1.111],[287.9,1.111],[290.1,1.143],[292.1,1.117],[292.9,1.088],[295,1.088],[296,1.051],[298,1.046],[299,1.033],[302,1.042],[303,1.082],[304,1.051],[305.9,1.057],[306.9,1.082],[309.9,1.091],[310.8,1.096],[312.1,1.102],[313.1,1.102],[316,1.094],[317.1,1.075],[318,1.098],[320,1.104],[320.9,1.128],[323,1.128],[324,1.146],[327,1.104],[330.1,1.104],[331,1.111],[334.1,1.159],[337.1,1.155],[338.1,1.143],[340,1.144],[341,1.117],[344,1.122],[345,1.091],[346.9,1.104],[350.7,1.115],[352.2,1.134],[353.2,1.141],[356.2,1.122],[358.1,1.121],[359.3,1.106],[361.2,1.113],[362.1,1.134],[365,1.140],[366,1.138]];

const y2016: P[] = [[1,1.0],[3,0.99],[5,0.965],[7,0.99],[9,0.99],[11,1.01],[12,1.04],[13,0.97],[15,1.02],[17,1.0],[20,0.97],[22,0.985],[25,1.02],[28,1.06],[30,1.04],[33,1.06],[35,1.05],[36.5,0.99],[38,0.97],[40,0.965],[42,0.94],[42.9,0.895],[44.9,0.895],[45.7,0.935],[46.8,0.92],[47.8,0.935],[50,0.922],[52,0.922],[53,0.937],[56,0.952],[58,0.97],[60,0.932],[61,0.93],[63,0.97],[66,0.99],[70,1.01],[73,1.02],[76,1.0],[80,1.02],[84,1.035],[87,0.975],[88,0.955],[90,0.956],[91,0.98],[93,0.99],[97,0.99],[98,1.016],[100,1.05],[102,1.057],[103,1.074],[104,1.104],[108,1.104],[110,1.113],[111,1.083],[112,1.091],[114,1.09],[116,1.076],[118,1.074],[119,1.055],[121,1.07],[123,1.06],[125,1.035],[127,1.031],[128,0.988],[129,1.061],[131,1.061],[132,1.07],[133,1.04],[134,1.053],[137,1.051],[139,1.07],[140,1.083],[141,1.09],[144,1.085],[146,1.08],[148,1.074],[150,1.074],[152,1.061],[153,1.061],[154,1.098],[155.5,1.104],[157,1.106],[159,1.106],[160,1.083],[161,1.083],[162,1.102],[163,1.076],[164,1.085],[165,1.087],[167,1.1],[168,1.1],[169,1.126],[170,1.168],[171,1.197],[173,1.196],[174,1.197],[176,1.203],[179,1.215],[182,1.22],[185,1.228],[187,1.233],[188,1.240],[189,1.233],[190,1.231],[191,1.208],[192,1.225],[194,1.233],[195,1.238],[196,1.233],[197,1.246],[198,1.255],[200,1.259],[201,1.263],[202,1.268],[203,1.255],[204,1.296],[205,1.289],[206,1.272],[208,1.272],[209,1.255],[211,1.243],[212,1.247],[215,1.242],[217,1.227],[218,1.227],[219,1.22],[220,1.233],[222,1.233],[223,1.221],[225,1.221],[226,1.199],[227,1.217],[229,1.208],[231,1.21],[232,1.186],[234,1.186],[236,1.169],[237,1.11],[238,1.104],[239,1.15],[240,1.195],[242,1.2],[244,1.227],[246,1.196],[248,1.2],[250,1.21],[252,1.22],[254,1.225],[256,1.224],[258,1.228],[260,1.15],[262,1.152],[264,1.143],[266,1.113],[267,1.122],[268,1.109],[273,1.106],[274,1.13],[276,1.21],[278,1.24],[280,1.33],[281,1.318],[283,1.318],[284,1.306],[286,1.304],[287,1.272],[288,1.293],[290,1.293],[291,1.287],[294,1.306],[296,1.306],[299,1.285],[301,1.281],[305,1.282],[306,1.242],[308,1.212],[310,1.21],[312,1.2],[315,1.18],[318,1.17],[320,1.185],[322,1.19],[324,1.19],[327,1.18],[329,1.195],[331,1.2],[334,1.21],[336,1.2],[340,1.2],[342,1.21],[344,1.24],[345,1.19],[347,1.21],[350,1.22],[352,1.24],[354,1.26],[356,1.25],[358,1.26],[360,1.27],[362,1.29],[364,1.28],[366,1.285]];

const y2015: P[] = [[1,1.0],[4,0.985],[7,0.97],[10,0.975],[13,0.995],[16,0.99],[19,1.0],[22,0.98],[26,0.975],[30,1.0],[33,0.99],[36,0.985],[40,1.0],[44,1.02],[48,1.005],[52,1.01],[55,1.03],[59,1.04],[63,1.06],[67,1.045],[71,1.055],[75,1.06],[79,1.07],[83,1.065],[87,1.06],[91,1.085],[95,1.08],[99,1.07],[103,1.06],[107,1.05],[111,1.06],[115,1.07],[119,1.065],[123,1.08],[127,1.09],[131,1.1],[135,1.09],[139,1.085],[143,1.1],[147,1.12],[151,1.13],[155,1.12],[159,1.125],[163,1.14],[167,1.15],[171,1.13],[175,1.14],[179,1.16],[183,1.15],[187,1.17],[191,1.16],[195,1.175],[199,1.19],[203,1.2],[207,1.19],[211,1.2],[215,1.215],[219,1.22],[223,1.25],[227,1.265],[231,1.28],[234,1.29],[237,1.28],[240,1.26],[244,1.22],[248,1.21],[252,1.2],[256,1.205],[260,1.19],[264,1.2],[268,1.18],[272,1.16],[276,1.17],[280,1.175],[284,1.18],[288,1.19],[292,1.2],[296,1.195],[300,1.2],[304,1.19],[308,1.18],[312,1.2],[315,1.16],[318,1.17],[322,1.17],[326,1.18],[330,1.185],[334,1.19],[338,1.18],[342,1.19],[345,1.165],[347,1.2],[352,1.2],[356,1.23],[360,1.24],[366,1.24]];

export default function App() {
  const W = 3600;
  const H = 1800;
  const x = d3.scaleLinear().domain([1, 366]).range([200, 3559]);
  const y = d3.scaleLinear().domain([0.532, 1.805]).range([1497, 175]);
  const line = d3.line<P>().x(d => x(d[0])).y(d => y(d[1]));
  const font = 'DejaVu Sans';
  const bg = '#d5e4eb';

  const thin = [
    { data: y2016, color: '#dcd9b6', width: 1.6 },
    { data: y2015, color: '#c9c5a5', width: 1.7 },
    { data: y2018, color: '#aca88c', width: 2.3 },
    { data: y2020, color: '#7d7b69', width: 2.7 },
    { data: y2021, color: '#67675a', width: 3.1 },
    { data: y2023, color: '#35352d', width: 3.3 },
  ];
  const thick = [
    { data: y2022, color: '#8b0000', width: 7.2 },
    { data: y2024, color: '#8b0000', width: 7.2 },
    { data: y2019, color: '#006400', width: 7.2 },
    { data: y2017, color: '#006400', width: 7.2 },
    { data: y2025, color: '#000000', width: 13 },
  ];

  return (
    <svg width={W} height={H} viewBox={`0 0 ${W} ${H}`}
      style={{ position: 'fixed', left: 0, top: 0, display: 'block', background: bg }}
      fontFamily={font}>
      <rect x={0} y={0} width={W} height={H} fill={bg} />
      {yTicks.map(t => (
        <line key={'g' + t} x1={x(1)} x2={x(366)} y1={y(t)} y2={y(t)} stroke="#ffffff" strokeWidth={8} />
      ))}
      {yTicks.map(t => (
        <text key={'yt' + t} x={153} y={y(t)} dy="0.36em" textAnchor="end" fontSize={45} fill="#000">{t.toFixed(1)}</text>
      ))}
      <text transform={`translate(79, ${(175 + 1497) / 2}) rotate(-90)`} textAnchor="middle" fontSize={45} fill="#000">growth of Rs. 1</text>
      <text x={200} y={1438} fontSize={71} fontWeight="bold" fill="#ffffff" fillOpacity={0.72}>@StockViz</text>
      {thin.map((s, i) => (
        <path key={'t' + i} d={line(s.data) || ''} fill="none" stroke={s.color} strokeWidth={s.width} strokeLinejoin="round" />
      ))}
      {thick.map((s, i) => (
        <path key={'k' + i} d={line(s.data) || ''} fill="none" stroke={s.color} strokeWidth={s.width} strokeLinejoin="round" />
      ))}
      <line x1={x(1)} x2={x(366)} y1={1497} y2={1497} stroke="#000" strokeWidth={4} />
      {monthTickDays.map((d, i) => (
        <g key={'xt' + d}>
          <line x1={x(d)} x2={x(d)} y1={1497} y2={1477} stroke="#000" strokeWidth={3.5} />
          <text transform={`translate(${x(d)}, 1545) rotate(-90)`} textAnchor="end" fontSize={45} fill="#000">{monthTickLabels[i]}</text>
        </g>
      ))}
      {labelYears.map((yr, i) => (
        <g key={'lb' + yr} transform={`translate(${x(labelDay)}, ${y(labelValues[i])})`}>
          <rect x={-74.5} y={-31.5} width={149} height={63} rx={12} ry={12}
            fill="#ffffff" fillOpacity={0.5} stroke="#000" strokeOpacity={0.5} strokeWidth={3} />
          <text x={0} y={0} dy="0.36em" textAnchor="middle" fontSize={45} fill="#000" fillOpacity={0.5}>{yr}</text>
        </g>
      ))}
      <text x={200} y={105} fontSize={68.5} fontWeight="bold" fill="#000">Refineries &amp; Marketing(CAP_WT)</text>
      <text x={200} y={148} fontSize={45} fill="#000">2015:2026-01-12</text>
    </svg>
  );
}
